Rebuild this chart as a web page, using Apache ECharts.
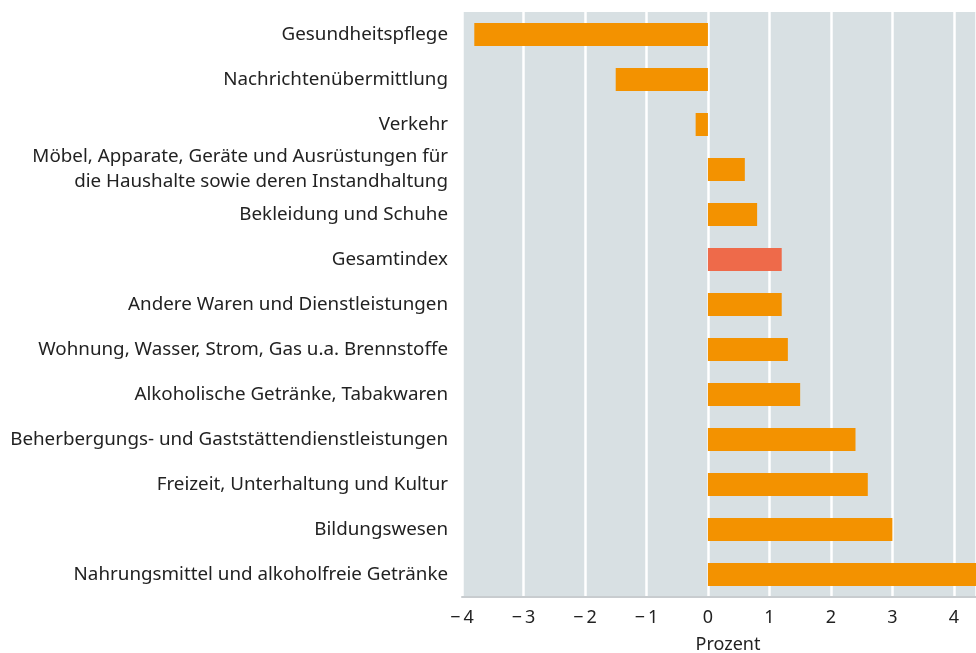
<!DOCTYPE html>
<html>
<head>
<meta charset="utf-8">
<script src="https://cdn.jsdelivr.net/npm/echarts@6/dist/echarts.min.js"></script>
<style>
html, body { margin: 0; padding: 0; background: #fff; }
#chart { width: 976px; height: 653px; }
</style>
</head>
<body>
<div id="chart"></div>
<script>
// Kategorien von oben nach unten
const categories = [
	'Gesundheitspflege',
	'Nachrichtenübermittlung',
	'Verkehr',
	'Möbel, Apparate, Geräte und Ausrüstungen für\ndie Haushalte sowie deren Instandhaltung',
	'Bekleidung und Schuhe',
	'Gesamtindex',
	'Andere Waren und Dienstleistungen',
	'Wohnung, Wasser, Strom, Gas u.a. Brennstoffe',
	'Alkoholische Getränke, Tabakwaren',
	'Beherbergungs- und Gaststättendienstleistungen',
	'Freizeit, Unterhaltung und Kultur',
	'Bildungswesen',
	'Nahrungsmittel und alkoholfreie Getränke'
];
const values = [-3.8, -1.5, -0.2, 0.6, 0.8, 1.2, 1.2, 1.3, 1.5, 2.4, 2.6, 3.0, 4.4];
const highlight = 'Gesamtindex';

const chart = echarts.init(document.getElementById('chart'));

const font = '"Noto Sans", sans-serif';

chart.setOption({
	animation: false,
	grid: {
		left: 462, right: 0, top: 12, bottom: 56,
		outerBoundsMode: 'none', containLabel: false,
		backgroundColor: '#d8e0e3', show: true, borderWidth: 0
	},
	xAxis: {
		type: 'value',
		min: -4,
		max: 4.36,
		interval: 1,
		name: 'Prozent',
		nameLocation: 'middle',
		nameGap: 39,
		nameTextStyle: { color: '#222', fontSize: 18, fontFamily: font, padding: [0, 0, 0, 18] },
		axisLine: { show: true, lineStyle: { color: '#c8cccf', width: 2 } },
		axisTick: { show: false },
		splitLine: { show: true, lineStyle: { color: '#ffffff', width: 2.5 } },
		axisLabel: {
			color: '#222', fontSize: 18, fontFamily: font, margin: 12,
			showMaxLabel: false,
			formatter: v => (v < 0 ? '\u2212\u2009' + Math.abs(v) : String(v))
		}
	},
	yAxis: {
		type: 'category',
		data: categories,
		inverse: true,
		axisLine: { show: false },
		axisTick: { show: false },
		splitLine: { show: false },
		axisLabel: { color: '#222', fontSize: 18.8, fontFamily: font, margin: 14, lineHeight: 25, align: 'right', padding: [4, 0, 0, 0] }
	},
	series: [{
		type: 'bar',
		barWidth: 23,
		data: values.map((v, i) => ({
			value: v,
			itemStyle: { color: categories[i] === highlight ? '#ee6a4a' : '#f39200' }
		}))
	}]
});
</script>
</body>
</html>
